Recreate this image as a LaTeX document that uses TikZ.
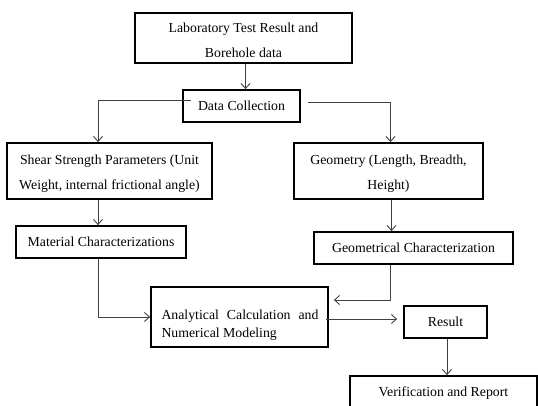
\documentclass[tikz,border=0pt]{standalone}
\usepackage{fontspec}
\setmainfont{Liberation Serif}
\usetikzlibrary{arrows.meta,calc}
\begin{document}
\begin{tikzpicture}[x=1pt,y=-1pt,
  box/.style={draw=black,line width=1.8pt,inner sep=0pt,align=center,
    font=\fontsize{13.8}{25}\selectfont},
  txt/.style={inner sep=0pt,align=center,font=\fontsize{13.8}{25}\selectfont},
  arr/.style={draw=black!75,line width=0.9pt,-{Straight Barb[length=5pt,width=9pt]}},
  ln/.style={draw=black!75,line width=0.9pt}]
\useasboundingbox (0,0) rectangle (538,406);
\node[box,minimum width=217,minimum height=50] (lab) at (243.5,38) {};
\node[txt] (labt) at (243.5,40.5) {Laboratory Test Result and\\Borehole data};
\node[box,minimum width=117,minimum height=32] (dc) at (241.5,106) {Data Collection};
\node[box,minimum width=205,minimum height=56] (shear) at (109.5,171) {};
\node[txt] (sheart) at (109.5,174) {Shear Strength Parameters (Unit\\Weight, internal frictional angle)};
\node[box,minimum width=170,minimum height=32] (mat) at (101,242) {Material Characterizations};
\node[box,minimum width=189,minimum height=56] (geo) at (388.5,171) {};
\node[txt] (geot) at (388.5,174) {Geometry (Length, Breadth,\\Height)};
\node[box,minimum width=199,minimum height=32] (gch) at (413.5,248) {Geometrical Characterization};
\node[box,minimum width=177,minimum height=60] (ana) at (239.5,317) {};
\node[txt,align=left,font=\fontsize{13.8}{18}\selectfont] (anat) at (240,325) {\makebox[157pt][s]{Analytical Calculation and}\\Numerical Modeling};
\node[box,minimum width=83,minimum height=32] (res) at (445.5,322) {Result};
\node[box,minimum width=187,minimum height=35] (ver) at (443.5,393.5) {Verification and Report};
% connectors
\draw[arr] ([xshift=2]lab.south) -- ([xshift=2]lab.south |- dc.north);
\draw[arr] ($(dc.west)+(9,-6)$) -| ([xshift=-11.5]shear.north);
\draw[arr] ($(dc.east)+(7,-4)$) -| ([xshift=2]geo.north);
\draw[arr] ([xshift=-11.5]shear.south) -- ([xshift=-11.5]shear.south |- mat.north);
\draw[arr] ([xshift=3]geo.south) -- ([xshift=3]geo.south |- gch.north);
\draw[arr] ([xshift=-3]mat.south) |- (ana.west);
\draw[arr] ([xshift=-23.5]gch.south) |- ($(ana.east)+(5,-17)$);
\draw[arr] ($(ana.east)+(-3,2)$) -- ($(res.west)+(-6,-3)$);
\draw[arr] ([xshift=1.5]res.south) -- ([xshift=1.5]res.south |- ver.north);
\end{tikzpicture}
\end{document}
